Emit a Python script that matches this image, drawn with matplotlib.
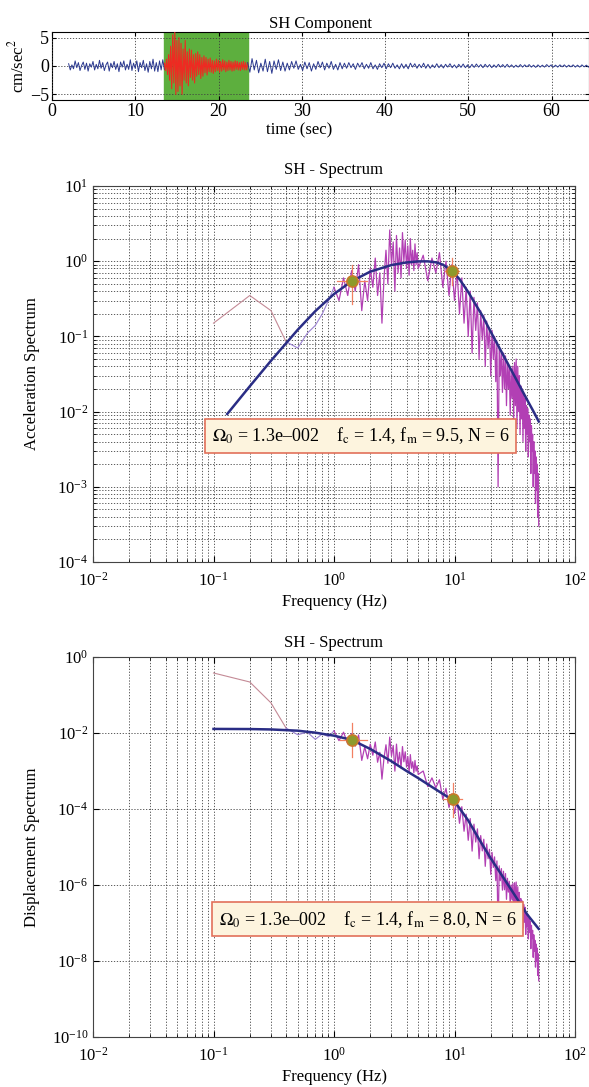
import numpy as np
import matplotlib
matplotlib.use('Agg')
import matplotlib.pyplot as plt
from matplotlib.ticker import FixedLocator, NullLocator, LogLocator, LogFormatterMathtext

plt.rcParams['font.family'] = ['Liberation Serif', 'DejaVu Serif']
plt.rcParams['mathtext.fontset'] = 'stix'
plt.rcParams['font.size'] = 12

# ---------------- time series (cm/sec^2) ----------------
t_start, t_win0, t_win1, t_end = 2.0, 13.5, 23.5, 65.5
trace_pre = [0.4, -0.7, 0.2, -0.5, 0.9, -0.3, 0.6, -0.8, 0.1, 0.7,
             -0.6, 0.5, -0.9, 0.4, -0.2, 0.8, -0.7, 0.3, -0.5, 1.0,
             -0.4, 0.6, -0.8, 0.2, 0.7, -0.9, 0.5, -0.3, 0.8, -0.6,
             0.4, -1.0, 0.7, -0.2, 0.9, -0.7, 0.3, -0.6, 1.1, -0.8,
             0.5, -0.4, 0.9, -1.0, 0.6, -0.3, 1.0, -0.8, 0.4, -1.1,
             0.8, -0.5, 1.2, -0.9, 0.6, -1.0, 0.9, -0.7, 1.1, -0.6]
trace_win = [0.5, -0.8, 1.2, -1.5, 2.0, -2.5, 3.5, -4.0, 5.5, -3.0,
             6.0, -5.0, 4.5, -4.5, 5.0, -3.5, 4.0, -5.0, 3.0, -2.5,
             4.5, -3.0, 2.5, -3.5, 3.0, -2.0, 2.8, -2.5, 2.0, -3.0,
             2.2, -1.8, 2.5, -1.5, 2.0, -2.2, 1.5, -1.8, 1.8, -1.2,
             1.5, -1.6, 1.2, -1.0, 1.4, -1.1, 1.0, -1.3, 0.9, -1.0,
             1.2, -0.8, 1.0, -1.1, 0.8, -0.9, 1.1, -0.7, 0.9, -1.0,
             0.7, -0.8, 1.0, -0.7, 0.8, -0.9, 0.7, -0.8, 0.9, -0.6,
             0.8, -0.7, 0.6, -0.8, 0.7, -0.6, 0.8, -0.7, 0.6, -0.7, 0.5]
trace_post = [0.6, -1.1, 1.3, -0.7, 1.0, -1.2, 0.5, -0.9, 1.2, -1.0, 0.8, -1.3, 0.9, -0.6, 1.1, -0.8, 0.7,
              -0.9, 0.5, -0.7, 0.8, -0.4, 0.9, -0.6, 0.3, -0.8, 0.7, -0.5, 0.6, -0.9, 0.4,
              -0.6, 0.8, -0.3, 0.7, -0.7, 0.5, -0.4, 0.8, -0.6, 0.3, -0.7, 0.6, -0.5,
              0.5, -0.4, 0.6, -0.3, 0.4, -0.6, 0.5, -0.2, 0.6, -0.5, 0.3, -0.4, 0.6, -0.5,
              0.2, -0.6, 0.4, -0.3, 0.5, -0.5, 0.4, -0.3, 0.5, -0.4, 0.2, -0.5, 0.4, -0.4,
              0.3, -0.5, 0.5, -0.2, 0.4, -0.4, 0.3, -0.3, 0.5, -0.4,
              0.3, -0.4, 0.2, -0.3, 0.4, -0.3, 0.25, -0.35, 0.3, -0.2, 0.4, -0.3, 0.2, -0.35,
              0.3, -0.25, 0.35, -0.3, 0.2, -0.3, 0.3, -0.25, 0.35, -0.2, 0.25, -0.3, 0.3, -0.2,
              0.25, -0.3, 0.2, -0.25, 0.3, -0.2, 0.25, -0.25, 0.3, -0.2,
              0.2, -0.25, 0.15, -0.2, 0.25, -0.2, 0.2, -0.15, 0.25, -0.2, 0.15, -0.25, 0.2, -0.2,
              0.15, -0.2, 0.25, -0.15, 0.2, -0.2, 0.15, -0.2, 0.2, -0.15, 0.2, -0.2, 0.15, -0.15,
              0.2, -0.2, 0.15, -0.2, 0.2, -0.15, 0.15, -0.2, 0.2, -0.15, 0.15, -0.2]

# ---------------- observed spectra ----------------
f_lo = [0.1, 0.2, 0.3, 0.4]
acc_lo = [0.15, 0.35, 0.22, 0.085]
disp_lo = [0.38, 0.22, 0.062, 0.0135]

f_mid = [0.4, 0.5, 0.6, 0.7, 0.8, 0.9, 1.0]
acc_mid = [0.085, 0.07, 0.11, 0.14, 0.2, 0.3, 0.45]
disp_mid = [0.0135, 0.009, 0.0105, 0.0068, 0.0095, 0.008, 0.0114]

f_hi = np.round(np.concatenate([np.arange(1.0, 5.05, 0.1), np.arange(5.5, 50.25, 0.5)]), 2)
acc_hi = [0.45, 0.3, 0.6, 0.35, 0.75, 0.4, 0.9, 0.22, 0.55, 0.3,
          0.8, 0.45, 1.1, 0.35, 0.7, 0.15, 0.6, 1.4, 0.5, 2.6,
          0.9, 1.8, 0.4, 2.2, 0.7, 1.5, 0.6, 2.4, 1.0, 1.9,
          0.8, 1.6, 0.65, 2.0, 0.9, 1.4, 0.75, 1.7, 0.9, 1.3, 0.8,
          1.2, 0.55, 1.1, 0.7, 1.3, 0.45, 1.0, 0.35, 0.9, 0.3,
          0.75, 0.2, 0.6, 0.15, 0.45, 0.1, 0.4, 0.06, 0.33, 0.12,
          0.28, 0.05, 0.22, 0.09, 0.19, 0.04, 0.16, 0.07, 0.13, 0.03,
          0.12, 0.05, 0.1, 0.025, 0.085, 0.001, 0.07, 0.03, 0.065, 0.018,
          0.06, 0.02, 0.055, 0.012, 0.045, 0.02, 0.04, 0.009, 0.035, 0.015,
          0.04, 0.008, 0.045, 0.012, 0.05, 0.006, 0.04, 0.01, 0.03, 0.005,
          0.022, 0.008, 0.02, 0.004, 0.017, 0.006, 0.015, 0.003, 0.012, 0.005,
          0.011, 0.0025, 0.009, 0.004, 0.008, 0.0015, 0.0065, 0.003, 0.005, 0.001,
          0.004, 0.0015, 0.003, 0.0006, 0.0025, 0.0009, 0.002, 0.0004, 0.0015, 0.0003]
disp_hi = [0.0114, 0.0063, 0.0105, 0.0052, 0.0097, 0.0045, 0.0089, 0.0019, 0.0043, 0.0021,
           0.0051, 0.0026, 0.0058, 0.0017, 0.0031, 0.00061, 0.0022, 0.0049, 0.0016, 0.0078,
           0.0025, 0.0047, 0.00099, 0.0051, 0.0015, 0.0031, 0.0012, 0.0044, 0.00175, 0.0032,
           0.00127, 0.0024, 0.00093, 0.0027, 0.00118, 0.00175, 0.0009, 0.0019, 0.00099, 0.00137, 0.00081,
           1.0e-3, 3.9e-4, 6.6e-4, 3.6e-4, 5.9e-4, 1.8e-4, 3.5e-4, 1.1e-4, 2.5e-4, 7.6e-5,
           1.7e-4, 4.2e-5, 1.15e-4, 2.6e-5, 7.3e-5, 1.5e-5, 5.6e-5, 7.8e-6, 4.0e-5, 1.35e-5,
           3.0e-5, 4.9e-6, 2.0e-5, 7.9e-6, 1.6e-5, 3.1e-6, 1.2e-5, 4.9e-6, 8.7e-6, 1.9e-6,
           7.2e-6, 2.9e-6, 5.5e-6, 1.3e-6, 4.3e-6, 4.8e-8, 3.2e-6, 1.3e-6, 2.7e-6, 7.3e-7,
           2.3e-6, 7.5e-7, 2.0e-6, 4.2e-7, 1.5e-6, 6.5e-7, 1.25e-6, 2.7e-7, 1.0e-6, 4.2e-7,
           1.1e-6, 2.1e-7, 1.15e-6, 3.0e-7, 1.2e-6, 1.4e-7, 9.0e-7, 2.2e-7, 6.4e-7, 1.0e-7,
           4.4e-7, 1.6e-7, 3.8e-7, 7.4e-8, 3.1e-7, 1.05e-7, 2.6e-7, 5.0e-8, 1.9e-7, 7.9e-8,
           1.7e-7, 3.8e-8, 1.3e-7, 5.7e-8, 1.1e-7, 2.1e-8, 8.7e-8, 3.9e-8, 6.4e-8, 1.25e-8,
           4.9e-8, 1.8e-8, 3.5e-8, 6.9e-9, 2.8e-8, 9.9e-9, 2.2e-8, 4.2e-9, 1.55e-8, 3.0e-9]

# ---------------- fitted source models ----------------
fit_f_acc = [0.13, 0.2, 0.3, 0.5, 0.7, 1.0, 1.4, 2, 3, 4, 5, 6, 7, 8, 9.5,
             11, 13, 15, 17, 20, 25, 30, 35, 40, 45, 50]
fit_acc = [0.0093, 0.0217, 0.0475, 0.1225, 0.217, 0.366, 0.541, 0.727, 0.889,
           0.962, 0.994, 0.995, 0.967, 0.90, 0.75, 0.577, 0.389, 0.264, 0.19, 0.115,
           0.059, 0.0342, 0.0215, 0.0144, 0.0102, 0.0074]
fit_f_disp = [0.1, 0.2, 0.3, 0.5, 0.7, 1.0, 1.4, 2, 3, 4, 5, 6.5, 8, 10, 13, 16,
              20, 25, 30, 40, 50]
fit_disp = [0.0128, 0.0127, 0.0124, 0.0115, 0.0102, 0.0085, 0.0066, 0.0038, 0.0018, 0.001,
            6.5e-4, 3.8e-4, 2.5e-4, 1.6e-4, 5e-5, 1.6e-5, 5e-6, 1.7e-6, 7e-7, 1.7e-7, 7e-8]

# corner / max frequency picks with their uncertainty ranges
acc_pick_f = [1.4, 9.5]
acc_pick_v = [0.54, 0.73]
acc_pick_frange = [(1.05, 1.87), (8.3, 11.0)]
acc_pick_vrange = [(0.27, 0.9), (0.48, 1.1)]
disp_pick_f = [1.4, 9.7]
disp_pick_v = [0.0066, 1.8e-4]
disp_pick_frange = [(1.13, 1.87), (8.0, 11.6)]
disp_pick_vrange = [(0.0023, 0.018), (6.2e-5, 4.8e-4)]

acc_text = r'$\Omega_0$ = 1.3e–002    f$_{\rm c}$ = 1.4, f$_{\rm m}$ = 9.5, N = 6'
disp_text = r'$\Omega_0$ = 1.3e–002    f$_{\rm c}$ = 1.4, f$_{\rm m}$ = 8.0, N = 6'

# ---------------- figure ----------------
W, H = 589, 1087
fig = plt.figure(figsize=(W / 100, H / 100), dpi=100)

def frac(l, t, r, b):
    return [l / W, 1 - b / H, (r - l) / W, (b - t) / H]

grid_kw = dict(color='#404040', linestyle=(0, (1.5, 2.0)), linewidth=0.6)

# --- SH component ---
ax1 = fig.add_axes(frac(52, 32, 589, 100))
ax1.axvspan(t_win0, t_win1, color='#5daf3e', zorder=1)
ax1.plot(np.linspace(t_start, t_win0, len(trace_pre)), trace_pre, color='#2b3990', lw=0.7, zorder=3)
ax1.plot(np.linspace(t_win0, t_win1, len(trace_win)), trace_win, color='#ee2a22', lw=0.8, zorder=3)
ax1.plot(np.linspace(t_win1, t_end, len(trace_post)), trace_post, color='#2b3990', lw=0.7, zorder=3)
ax1.set_xlim(0, 64.5)
ax1.set_ylim(-6, 6)
ax1.set_xticks([0, 10, 20, 30, 40, 50, 60])
ax1.set_yticks([-5, 0, 5])
ax1.set_yticklabels(['−5', '0', '5'])
ax1.grid(True, **grid_kw)
ax1.set_axisbelow(False)
ax1.tick_params(direction='in', top=True, right=True, length=3, labelsize=13, pad=2)
ax1.set_title('SH Component', fontsize=12, pad=3)
ax1.set_xlabel('time (sec)', fontsize=12)
ax1.xaxis.set_label_coords(0.46, -0.33)
ax1.set_ylabel(r'cm/sec$^2$', fontsize=12)
ax1.yaxis.set_label_coords(-0.045, 0.5)


def spectrum_axes(ax, ymin, ymax, yticks, yminor):
    ax.set_xscale('log')
    ax.set_yscale('log')
    ax.set_xlim(1e-2, 1e2)
    ax.set_ylim(ymin, ymax)
    ax.xaxis.set_major_locator(FixedLocator([1e-2, 1e-1, 1, 10, 100]))
    ax.xaxis.set_minor_locator(LogLocator(base=10, subs=np.arange(2, 10), numticks=20))
    ax.yaxis.set_major_locator(FixedLocator(yticks))
    if yminor:
        ax.yaxis.set_minor_locator(LogLocator(base=10, subs=np.arange(2, 10), numticks=20))
    else:
        ax.yaxis.set_minor_locator(NullLocator())
    ax.xaxis.set_major_formatter(LogFormatterMathtext())
    ax.yaxis.set_major_formatter(LogFormatterMathtext())
    ax.xaxis.set_minor_formatter(plt.NullFormatter())
    ax.yaxis.set_minor_formatter(plt.NullFormatter())
    ax.grid(True, which='major', **grid_kw)
    ax.xaxis.grid(True, which='minor', **grid_kw)
    if yminor:
        ax.yaxis.grid(True, which='minor', **grid_kw)
    ax.tick_params(which='both', direction='in', top=True, right=True, labelsize=12)
    ax.tick_params(which='major', length=4)
    ax.tick_params(which='minor', length=2)
    ax.tick_params(axis='x', which='major', pad=7)
    for s in ax.spines.values():
        s.set_color('#444444')
        s.set_linewidth(0.8)


def draw_spectrum(ax, lo, mid, hi, fit_f, fit_v, pf, pv, pfr, pvr, text, tx, ty):
    ax.plot(f_lo, lo, color='#c48a96', lw=0.8, zorder=3)
    ax.plot(f_mid, mid, color='#9b82d2', lw=0.8, zorder=3)
    ax.plot(f_hi, hi, color='#b23fb4', lw=0.9, zorder=3)
    ax.plot(fit_f, fit_v, color='#2a2d85', lw=1.8, zorder=4)
    for f, v, fr, vr in zip(pf, pv, pfr, pvr):
        ax.plot(fr, [v, v], color='#f28062', lw=0.9, zorder=5)
        ax.plot([f, f], vr, color='#f28062', lw=0.9, zorder=5)
    ax.plot(pf, pv, 'o', ms=8, mfc='#8d9a2c', mec='#c77a2a', mew=1.2, zorder=6)
    ax.text(tx, ty, text, transform=ax.transAxes, ha='center', va='center', fontsize=13,
            zorder=10, bbox=dict(boxstyle='square,pad=0.35', fc='#fdf4de', ec='#e2715a', lw=1.2))


ax2 = fig.add_axes(frac(93, 186, 575, 562))
spectrum_axes(ax2, 1e-4, 1e1, [1e-4, 1e-3, 1e-2, 1e-1, 1, 10], True)
draw_spectrum(ax2, acc_lo, acc_mid, acc_hi, fit_f_acc, fit_acc, acc_pick_f, acc_pick_v,
              acc_pick_frange, acc_pick_vrange, acc_text, 0.555, 0.335)
ax2.set_title('SH - Spectrum', fontsize=12, pad=9)
ax2.set_xlabel('Frequency (Hz)', fontsize=12)
ax2.set_ylabel('Acceleration Spectrum', fontsize=12)
ax2.yaxis.set_label_coords(-0.11, 0.5)
ax2.xaxis.set_label_coords(0.5, -0.085)

ax3 = fig.add_axes(frac(93, 657, 575, 1037))
spectrum_axes(ax3, 1e-10, 1, [1e-10, 1e-8, 1e-6, 1e-4, 1e-2, 1], False)
draw_spectrum(ax3, disp_lo, disp_mid, disp_hi, fit_f_disp, fit_disp, disp_pick_f, disp_pick_v,
              disp_pick_frange, disp_pick_vrange, disp_text, 0.57, 0.31)
ax3.set_title('SH - Spectrum', fontsize=12, pad=7)
ax3.set_xlabel('Frequency (Hz)', fontsize=12)
ax3.set_ylabel('Displacement Spectrum', fontsize=12)
ax3.yaxis.set_label_coords(-0.11, 0.5)
ax3.xaxis.set_label_coords(0.5, -0.085)

fig.savefig('out.png', dpi=100)
